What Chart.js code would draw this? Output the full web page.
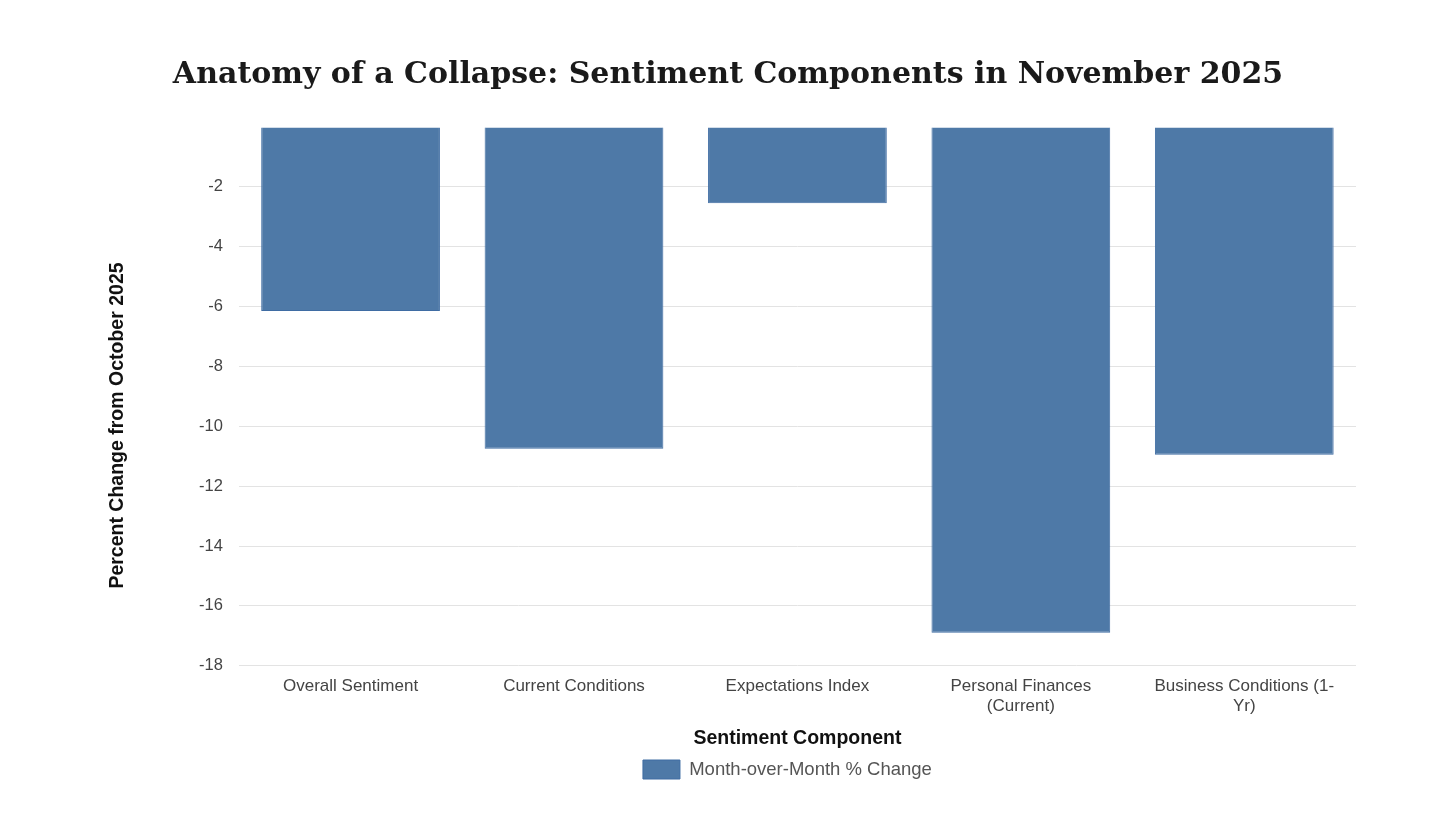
<!DOCTYPE html>
<html>
<head>
<meta charset="utf-8">
<script src="https://cdn.jsdelivr.net/npm/chart.js@4"></script>
<style>
  html, body { margin: 0; padding: 0; background: #fff; }
  #wrap { width: 1456px; height: 819px; }
</style>
</head>
<body>
<div id="wrap"><canvas id="sentiment-plot"></canvas></div>
<script>
let components = ['Overall Sentiment', 'Current Conditions', 'Expectations Index', ['Personal Finances', '(Current)'], ['Business Conditions (1-', 'Yr)']]
let mom_change = [-6.15, -10.75, -2.55, -16.9, -10.95]
let series_name = 'Month-over-Month % Change'
let y_title = 'Percent Change from October 2025'
let y_ticks = [0, -2, -4, -6, -8, -10, -12, -14, -16, -18]

function s_define_chart_defaults() {
    Chart.defaults.font.family = '"Liberation Sans", Arial, sans-serif'
    Chart.defaults.color = '#444'
    Chart.defaults.responsive = true
    Chart.defaults.maintainAspectRatio = false
    Chart.defaults.animation = false
}

// title centred on the page, legend roughly over the plot, y title over plot + labels
let s_layout_plugin = {
    id: 's_layout',
    afterLayout(chart) {
        let ca = chart.chartArea
        let tt = chart.titleBlock
        tt.left = 0
        tt.right = chart.width
        tt.width = chart.width
        let lg = chart.legend
        lg.left = ca.left - 10
        lg.right = ca.right - 10
        lg.width = ca.right - ca.left
    },
    afterDraw(chart) {
        let c = chart.ctx
        let ca = chart.chartArea
        let xs = chart.scales.x
        let cy = (ca.top + xs.bottom - 30) / 2
        c.save()
        c.translate(ca.left - 121, cy)
        c.rotate(-Math.PI / 2)
        c.font = 'bold 19.5px "Liberation Sans", Arial, sans-serif'
        c.fillStyle = '#111'
        c.textAlign = 'center'
        c.textBaseline = 'middle'
        c.fillText(y_title, 0, 0)
        c.restore()
    }
}

function s_create_chart() {
    let ctx = document.getElementById('sentiment-plot')
    new Chart(ctx, {
        type: 'bar',
        data: {
            labels: components,
            datasets: [{
                label: series_name,
                data: mom_change,
                backgroundColor: '#4e79a7',
                borderColor: '#3f6ca3',
                borderWidth: 1,
                barPercentage: 0.8,
                categoryPercentage: 1.0,
            }]
        },
        options: {
            layout: {padding: {left: 183, right: 100, top: 10, bottom: 30}},
            scales: {
                x: {
                    grid: {display: false},
                    border: {display: false},
                    ticks: {font: {size: 17}, color: '#444', maxRotation: 0, padding: 2},
                    title: {display: true, text: 'Sentiment Component', font: {size: 19.5, weight: 'bold'}, color: '#111', padding: {top: 8, bottom: 4}},
                },
                y: {
                    min: -18,
                    max: 0,
                    afterBuildTicks: (axis) => { axis.ticks = y_ticks.map(v => ({value: v})) },
                    grid: {
                        color: (c) => c.tick && c.tick.value === 0 ? 'rgba(0,0,0,0)' : '#e3e3e3',
                        drawTicks: false,
                    },
                    border: {display: false},
                    ticks: {
                        font: {size: 16.5}, color: '#444', padding: 16,
                        callback: (v) => v === 0 ? '' : v,
                    },
                }
            },
            plugins: {
                title: {
                    display: true,
                    text: 'Anatomy of a Collapse: Sentiment Components in November 2025',
                    font: {family: '"DejaVu Serif", "Liberation Serif", serif', size: 30, weight: 'bold'},
                    color: '#1a1a1a',
                    padding: {top: 47, bottom: 34},
                },
                legend: {
                    position: 'bottom',
                    labels: {font: {size: 18.5}, color: '#555', boxWidth: 37, boxHeight: 19, padding: 6},
                },
                tooltip: {enabled: false},
            }
        },
        plugins: [s_layout_plugin]
    })
}

document.addEventListener('DOMContentLoaded', () => {
    s_define_chart_defaults()
    s_create_chart()
})
</script>
</body>
</html>
